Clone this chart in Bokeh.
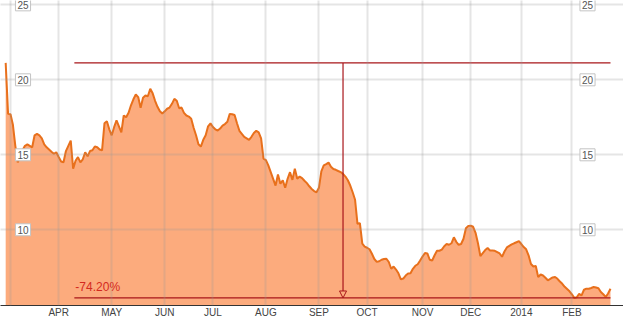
from bokeh.plotting import figure
from bokeh.models import Range1d, FixedTicker, Label, Arrow, NormalHead
from bokeh.embed import file_html
from bokeh.resources import INLINE
import numpy as np

# ---- data (trading sessions counted from 1 Mar 2013) ----
first_session = -2
close = [
    21.13, 17.73, 17.70, 17.00, 15.60, 14.50, 14.90, 15.30, 15.60, 15.70,
    15.60, 15.50, 16.30, 16.40, 16.30, 16.10, 15.70, 15.50, 15.35, 15.20,
    15.07, 15.17, 14.85, 14.55, 14.50, 15.25, 15.60, 15.95, 14.07, 14.60,
    14.85, 14.50, 14.70, 15.17, 14.90, 15.25, 15.30, 15.55, 15.50, 15.35,
    15.30, 17.10, 17.24, 16.70, 16.30, 16.84, 17.29, 16.90, 16.50, 17.62,
    17.50, 17.80, 18.30, 18.70, 19.02, 18.85, 18.13, 18.80, 18.95, 18.90,
    19.40, 19.10, 18.60, 18.20, 17.90, 17.75, 17.90, 18.07, 18.15, 18.40,
    18.73, 18.60, 18.10, 18.15, 17.80, 17.62, 17.55, 17.40, 16.80, 16.30,
    15.70, 15.55, 16.00, 16.30, 16.90, 17.10, 16.85, 16.70, 16.62, 16.75,
    16.95, 17.05, 17.20, 17.73, 17.70, 17.65, 17.10, 16.60, 16.40, 16.20,
    16.10, 16.00, 16.20, 16.45, 16.60, 16.50, 16.10, 14.75, 14.65, 14.30,
    13.85, 13.40, 12.95, 13.69, 13.07, 13.30, 12.80, 13.40, 13.84, 13.33,
    14.07, 13.40, 13.55, 13.45, 13.27, 13.11, 12.90, 12.72, 12.58, 12.50,
    12.80, 13.90, 14.30, 14.38, 14.48, 14.20, 14.05, 14.00, 13.92, 13.85,
    13.73, 13.55, 13.30, 12.95, 12.50, 12.00, 10.40, 10.44, 9.07, 8.88,
    8.80, 8.70, 8.40, 8.05, 7.86, 7.90, 8.00, 8.05, 8.07, 7.85,
    7.40, 7.55, 7.35, 7.10, 6.70, 6.75, 6.95, 7.08, 7.10, 7.40,
    7.60, 7.70, 7.95, 8.22, 8.45, 8.42, 8.00, 7.95, 8.30, 8.60,
    8.60, 8.68, 8.90, 9.05, 9.00, 9.10, 9.50, 9.20, 9.00, 9.05,
    9.40, 10.10, 10.26, 10.27, 10.20, 9.80, 9.10, 8.25, 8.45, 8.65,
    8.78, 8.62, 8.62, 8.60, 8.51, 8.42, 8.20, 8.55, 8.82, 8.92,
    9.02, 9.10, 9.17, 9.24, 9.05, 8.85, 8.70, 8.30, 7.72, 7.55,
    7.58, 6.84, 7.02, 6.95, 6.80, 6.63, 6.72, 6.82, 6.85, 6.73,
    6.55, 6.40, 6.20, 6.05, 5.90, 5.70, 5.452, 5.50, 5.73, 5.62,
    6.00, 6.07, 6.07, 6.12, 6.18, 6.15, 6.10, 5.85, 5.70, 5.52,
    5.75, 6.07,
]
month_sessions = [0, 20, 42, 64, 84, 106, 128, 148, 171, 191, 212, 233]
month_labels = ["", "APR", "MAY", "JUN", "JUL", "AUG", "SEP", "OCT", "NOV", "DEC", "2014", "FEB"]
y_ticks = [10, 15, 20, 25]
change_label = "-74.20%"
marker_session = 138
span_from = 26.5

sessions = np.arange(first_session, first_session + len(close))
hi = max(close)
lo = min(close)

FONT = "Liberation Sans"
RED = "#a8161a"

p = figure(width=623, height=322,
           x_range=Range1d(-4.15, 254.4), y_range=Range1d(4.95, 25.29),
           output_backend="svg", toolbar_location=None,
           min_border=0, min_border_bottom=17)
p.outline_line_color = None
p.background_fill_color = "white"
p.border_fill_color = "white"

# area + line
p.varea(x=sessions, y1=0, y2=close, fill_color="#fcab7d", fill_alpha=1.0)
p.line(sessions, close, line_color="#e8701c", line_width=2)

# axes
p.xaxis.ticker = FixedTicker(ticks=month_sessions)
p.xaxis.major_label_overrides = {s: l for s, l in zip(month_sessions, month_labels)}
p.xaxis.major_tick_line_color = None
p.xaxis.minor_tick_line_color = None
p.xaxis.major_tick_out = 0
p.xaxis.major_tick_in = 0
p.xaxis.minor_tick_out = 0
p.xaxis.minor_tick_in = 0
p.xaxis.axis_line_color = "#333333"
p.xaxis.axis_line_width = 1.2
p.xaxis.major_label_text_font = FONT
p.xaxis.major_label_text_font_size = "10px"
p.xaxis.major_label_text_color = "#444444"
p.xaxis.major_label_standoff = 1
p.yaxis.ticker = FixedTicker(ticks=y_ticks)
p.yaxis.visible = False

for g in (p.xgrid, p.ygrid):
    g.grid_line_color = "#999999"
    g.grid_line_alpha = 0.25
    g.grid_line_width = 2
    g.level = "annotation"

# y labels (in boxes, both sides)
for t in y_ticks:
    for sx in (22.5, 587):
        p.add_layout(Label(x=sx, x_units="screen", y=t, text=str(t),
                           text_align="center", text_baseline="middle",
                           text_font=FONT, text_font_size="10px", text_color="#555555",
                           background_fill_color="white", border_line_color="#c4c4c4",
                           border_line_width=1, padding=2))

# high/low lines and drawdown marker
p.segment(x0=[span_from, span_from], x1=[sessions[-1], sessions[-1]],
          y0=[hi, lo], y1=[hi, lo], line_color=RED, line_width=1.2)
p.add_layout(Arrow(x_start=marker_session, y_start=hi, x_end=marker_session, y_end=lo,
                   line_color=RED, line_width=1.2,
                   end=NormalHead(size=7, fill_alpha=0, line_color=RED, line_width=1)))
p.add_layout(Label(x=span_from, y=lo, text=change_label, x_offset=1, y_offset=4,
                   text_baseline="bottom", text_align="left",
                   text_font=FONT, text_font_size="12px", text_color="#d42a1e"))

open("out.html", "w").write(file_html(p, INLINE))
